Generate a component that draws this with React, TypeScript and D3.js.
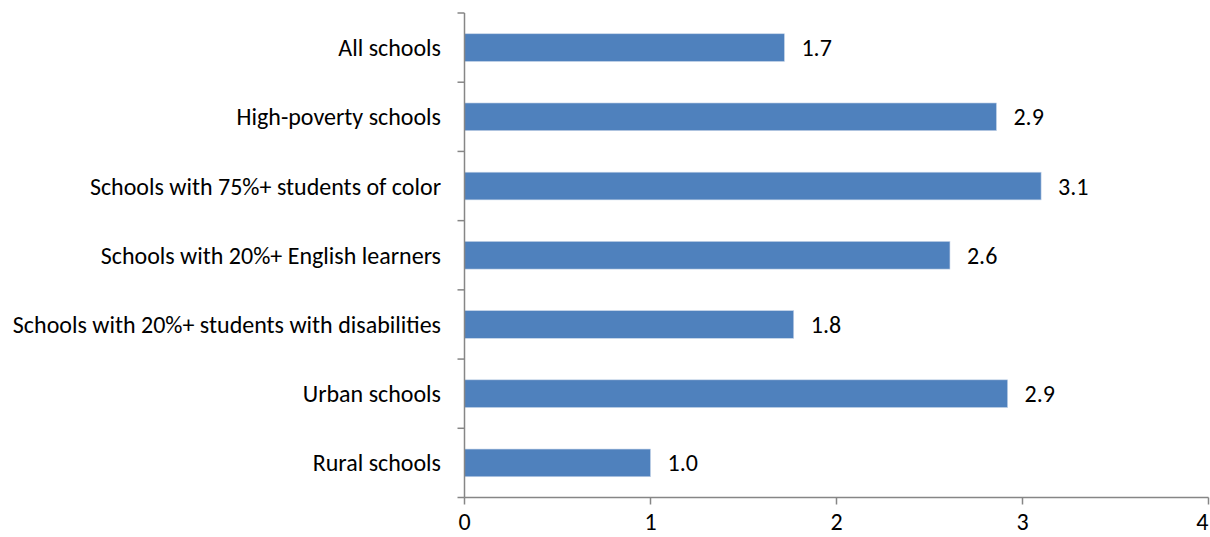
import React from "react";
import * as d3 from "d3";

const categories = [
  "All schools",
  "High-poverty schools",
  "Schools with 75%+ students of color",
  "Schools with 20%+ English learners",
  "Schools with 20%+ students with disabilities",
  "Urban schools",
  "Rural schools",
];
const values = [1.72, 2.86, 3.1, 2.61, 1.77, 2.92, 1.0];
const labels = ["1.7", "2.9", "3.1", "2.6", "1.8", "2.9", "1.0"];
const xTicks = [0, 1, 2, 3, 4];

export default function App() {
  const W = 1210, H = 537;
  const left = 464.5, right = 1208.5, top = 13, bottom = 497.5;
  const x = d3.scaleLinear().domain([0, 4]).range([left, right]);
  const y = d3.scaleBand().domain(categories).range([top, bottom]).paddingInner(0.6).paddingOuter(0.3);
  const step = (bottom - top) / categories.length;
  const font = "Carlito, Calibri, 'Open Sans', sans-serif";
  const axisColor = "#868686";
  const fs = 24;
  return (
    <svg width={W} height={H} style={{ position: "absolute", left: 0, top: 0 }} fontFamily={font}>
      {categories.map((c, i) => (
        <g key={c}>
          <rect x={x(0)} y={y(c)!} width={x(values[i]) - x(0)} height={y.bandwidth()} fill="#4F81BD" stroke="#C6D4E8" strokeWidth={0.6} />
          <text x={x(values[i]) + 17} y={y(c)! + y.bandwidth() / 2} dominantBaseline="central" fontSize={fs} fill="#000">{labels[i]}</text>
          <text x={441} y={y(c)! + y.bandwidth() / 2} dominantBaseline="central" textAnchor="end" fontSize={fs} fill="#000">{c}</text>
        </g>
      ))}
      <line x1={left} x2={left} y1={top} y2={bottom} stroke={axisColor} strokeWidth={1.5} />
      {d3.range(categories.length + 1).map((i) => (
        <line key={i} x1={left - 7} x2={left} y1={top + i * step} y2={top + i * step} stroke={axisColor} strokeWidth={1.5} />
      ))}
      <line x1={left} x2={right} y1={bottom} y2={bottom} stroke={axisColor} strokeWidth={1.5} />
      {xTicks.map((t) => (
        <g key={t}>
          <line x1={x(t)} x2={x(t)} y1={bottom} y2={bottom + 7} stroke={axisColor} strokeWidth={1.5} />
          <text x={x(t)} y={530} textAnchor={t === 4 ? "end" : "middle"} fontSize={fs} fill="#000">{t}</text>
        </g>
      ))}
    </svg>
  );
}
